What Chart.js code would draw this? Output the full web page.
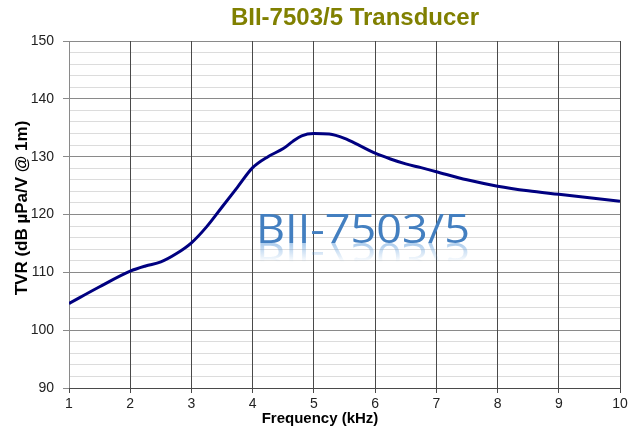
<!DOCTYPE html>
<html>
<head>
<meta charset="utf-8">
<script src="https://cdn.jsdelivr.net/npm/chart.js@4.4.1/dist/chart.umd.min.js"></script>
<style>
  html, body { margin: 0; padding: 0; background: #fff; }
  #wrap { width: 631px; height: 438px; }
</style>
</head>
<body>
<div id="wrap"><canvas id="tvr-chart" width="631" height="438"></canvas></div>
<script>
// values
const freqKHz = [1, 1.5, 2, 2.25, 2.5, 2.75, 3, 3.25, 3.5, 3.75, 4, 4.25, 4.5, 4.65, 4.8,
                 5, 5.25, 5.5, 5.75, 6, 6.25, 6.5, 6.75, 7, 7.5, 8, 8.5, 9, 9.5, 10];
const tvrDb = [104.6, 107.5, 110.2, 111.1, 111.8, 113.2, 115.1, 117.9, 121.3, 124.7, 128.1, 130.0, 131.4, 132.6, 133.6,
               134.0, 133.9, 133.15, 131.9, 130.6, 129.6, 128.75, 128.1, 127.4, 126.0, 124.9, 124.1, 123.5, 122.9, 122.3];
const chartTitle = 'BII-7503/5 Transducer';
const xTitle = 'Frequency (kHz)';
const yTitle = 'TVR (dB µPa/V @ 1m)';
const watermark = 'BII-7503/5';

const FONT = '"Liberation Sans", Arial, sans-serif';

// titles and the blue watermark with its reflection
const decorations = {
    id: 'decorations',
    beforeDatasetsDraw(chart) {
        const c = chart.ctx;
        c.save();
        c.font = '40px "Open Sans", "Noto Sans", sans-serif';
        const w = c.measureText(watermark).width;
        const left = 256, base = 243, target = 214;
        const sx = target / w;
        const g = c.createLinearGradient(0, base - 29, 0, base);
        g.addColorStop(0, '#437fc0');
        g.addColorStop(1, '#78addf');
        c.translate(left, base);
        c.scale(sx, 1);
        c.textBaseline = 'alphabetic';
        c.fillStyle = g;
        c.fillText(watermark, 0, 0);
        // reflection
        c.beginPath();
        c.rect(-5, 0, w + 10, 19);
        c.clip();
        c.scale(1, -1);
        const r = c.createLinearGradient(0, 0, 0, -19);
        r.addColorStop(0, 'rgba(100,160,220,0.55)');
        r.addColorStop(1, 'rgba(100,160,220,0)');
        c.fillStyle = r;
        c.fillText(watermark, 0, 0);
        c.restore();
    },
    afterDraw(chart) {
        const c = chart.ctx;
        c.save();
        c.textAlign = 'center';
        c.textBaseline = 'alphabetic';
        c.fillStyle = '#808000';
        c.font = 'bold 24px ' + FONT;
        c.fillText(chartTitle, 355, 25);
        c.fillStyle = '#000';
        c.font = 'bold 15px ' + FONT;
        c.fillText(xTitle, 320, 423);
        c.translate(27, 208);
        c.rotate(-Math.PI / 2);
        c.font = 'bold 17px ' + FONT;
        c.fillText(yTitle, 0, 0);
        c.restore();
    }
};

const ctx = document.getElementById('tvr-chart').getContext('2d');
const tvrChart = new Chart(ctx, {
    type: 'line',
    data: {
        datasets: [{
            data: freqKHz.map((f, i) => ({ x: f, y: tvrDb[i] })),
            borderColor: '#000080',
            borderWidth: 3,
            pointRadius: 0,
            cubicInterpolationMode: 'monotone',
            fill: false
        }]
    },
    options: {
        responsive: false,
        animation: false,
        layout: { padding: { top: 41, right: 11, bottom: 0, left: 0 } },
        plugins: {
            legend: { display: false },
            title: { display: false },
            tooltip: { enabled: false }
        },
        scales: {
            // y first so the dark vertical lines are drawn over the light minor ones
            y: {
                min: 90,
                max: 150,
                afterFit(s) { s.width = 69; },
                ticks: {
                    stepSize: 2,
                    autoSkip: false,
                    padding: 9,
                    color: '#222',
                    font: { family: FONT, size: 14 },
                    callback: v => (v % 10 === 0 ? v : '')
                },
                grid: {
                    color: c => (c.tick && c.tick.value % 10 === 0 ? '#8a8a8a' : '#dcdcdc'),
                    tickColor: c => (c.tick && c.tick.value % 10 === 0 ? '#8a8a8a' : 'rgba(0,0,0,0)'),
                    tickLength: 6
                },
                border: { color: '#8a8a8a' }
            },
            x: {
                type: 'linear',
                min: 1,
                max: 10,
                afterFit(s) { s.height = 50; },
                ticks: {
                    stepSize: 1,
                    padding: 3,
                    color: '#222',
                    font: { family: FONT, size: 14 },
                    maxRotation: 0
                },
                grid: { color: '#4a4a4a', tickLength: 5, tickColor: '#4a4a4a' },
                border: { color: '#4a4a4a' }
            }
        }
    },
    plugins: [decorations]
});
</script>
</body>
</html>
